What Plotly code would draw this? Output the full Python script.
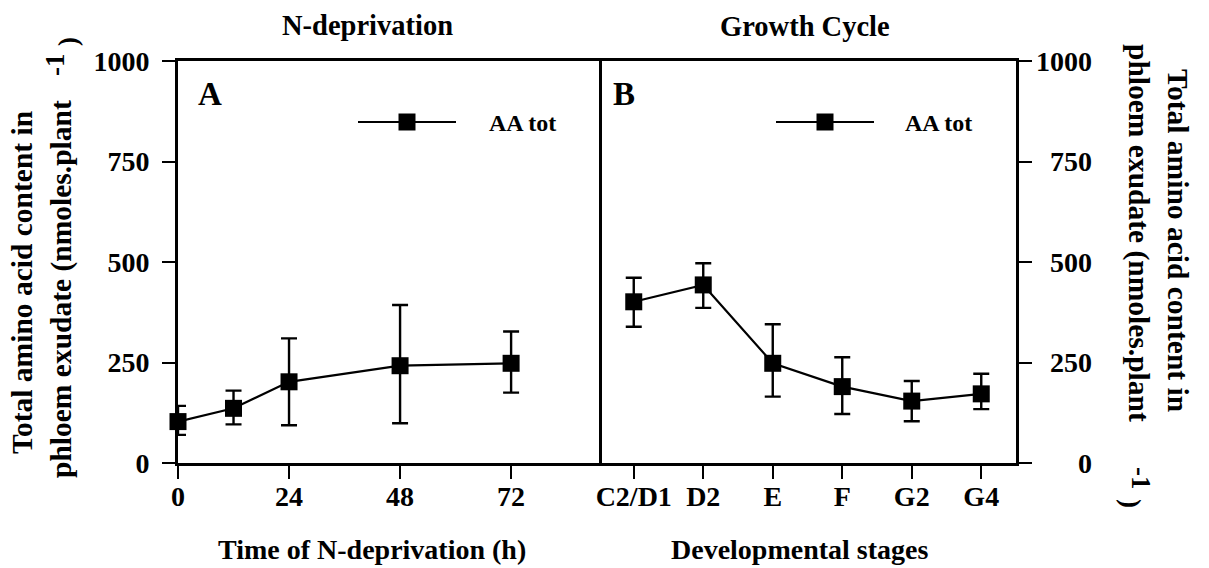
import plotly.graph_objects as go

W, H = 1209, 568

# ---- data ----
hours = [0, 12, 24, 48, 72]
aa_ndep = [103, 136, 202, 242, 248]
aa_ndep_upper = [142, 180, 310, 393, 327]
aa_ndep_lower = [70, 96, 94, 99, 175]

stages = ["C2/D1", "D2", "E", "F", "G2", "G4"]
aa_growth = [401, 443, 248, 190, 154, 172]
aa_growth_upper = [461, 497, 345, 263, 204, 222]
aa_growth_lower = [339, 386, 165, 122, 104, 134]

hour_ticks = [0, 24, 48, 72]
y_ticks = [0, 250, 500, 750, 1000]

FONT = "Liberation Serif, Times New Roman, serif"
BLACK = "#000000"

def err(vals, up, lo):
    return dict(type="data", symmetric=False,
                array=[u - v for u, v in zip(up, vals)],
                arrayminus=[v - l for v, l in zip(vals, lo)],
                color=BLACK, thickness=2.4, width=8)

fig = go.Figure()
fig.add_trace(go.Scatter(
    x=hours, y=aa_ndep, mode="lines+markers", name="AA tot",
    line=dict(color=BLACK, width=2.2),
    marker=dict(symbol="square", size=17, color=BLACK),
    error_y=err(aa_ndep, aa_ndep_upper, aa_ndep_lower),
    cliponaxis=False, xaxis="x", yaxis="y", showlegend=False))
fig.add_trace(go.Scatter(
    x=stages, y=aa_growth, mode="lines+markers", name="AA tot",
    line=dict(color=BLACK, width=2.2),
    marker=dict(symbol="square", size=17, color=BLACK),
    error_y=err(aa_growth, aa_growth_upper, aa_growth_lower),
    cliponaxis=False, xaxis="x2", yaxis="y2", showlegend=False))

def px(x):
    return x / W

def py(y):
    return 1 - y / H

tickfont = dict(family=FONT, size=28, color=BLACK, weight="bold")
axis_common = dict(showline=True, linecolor=BLACK, linewidth=2.6,
                   showgrid=False, zeroline=False, ticks="outside", ticklen=13,
                   tickwidth=2.4, tickcolor=BLACK, tickfont=tickfont,
                   automargin=False)

left_x0, mid_x, right_x1 = 178, 599, 1016
top_y, bot_y = 61, 463

fig.update_layout(
    template="none",
    width=W, height=H, margin=dict(l=0, r=0, t=0, b=0, pad=0),
    paper_bgcolor="white", plot_bgcolor="white", showlegend=False,
    xaxis=dict(domain=[px(left_x0), px(mid_x)], range=[0, 91],
               tickvals=hour_ticks, anchor="y", mirror=True,
               ticklabelstandoff=-6, **axis_common),
    yaxis=dict(domain=[py(bot_y), py(top_y)], range=[0, 1000],
               tickvals=y_ticks, anchor="x", mirror=True, ticklabelstandoff=7,
               **axis_common),
    xaxis2=dict(domain=[px(mid_x), px(right_x1)], type="category",
                range=[-0.5, 5.5], anchor="y2", mirror=True,
                ticklabelstandoff=-6, **axis_common),
    yaxis2=dict(domain=[py(bot_y), py(top_y)], range=[0, 1000],
                tickvals=y_ticks, side="right", anchor="x2", mirror=False,
                showticklabels=False, **axis_common),
)

ann = []
def add_text(text, x, y, size=28, angle=0, xanchor="center", yanchor="middle",
             xref="paper", yref="paper"):
    ann.append(dict(text=text, x=x, y=y, xref=xref, yref=yref, showarrow=False,
                    xanchor=xanchor, yanchor=yanchor, textangle=angle,
                    font=dict(family=FONT, size=size, color=BLACK, weight="bold")))

# right-axis tick labels (right aligned)
for v in y_ticks:
    add_text(str(v), px(1094), v, size=28, xanchor="right", yref="y2")

# panel titles
add_text("N-deprivation", px(367), py(25), size=28.5)
add_text("Growth Cycle", px(805), py(27), size=28.5)
# axis titles
add_text("Time of N-deprivation (h)", px(372), py(549))
add_text("Developmental stages", px(800), py(549))
# panel letters
add_text("A", px(196), py(94), size=33, xanchor="left")
add_text("B", px(611), py(94), size=33, xanchor="left")

# left y title
ytitle1 = "Total amino acid content in"
ytitle2 = "phloem exudate (nmoles.plant"
add_text(ytitle1, px(22), py(283), size=29.5, angle=-90)
add_text(ytitle2, px(61), py(289), size=29.5, angle=-90)
add_text("-1", px(55), py(65), size=27, angle=-90)
add_text(")", px(68), py(42), size=27, angle=-90)
# right y title
add_text(ytitle1, px(1178), py(240), size=29.5, angle=90)
add_text(ytitle2, px(1138), py(233), size=29.5, angle=90)
add_text("-1", px(1141), py(478), size=27, angle=90)
add_text(")", px(1131), py(503), size=27, angle=90)

# legend keys
shapes = []
for (lx0, lx1, tx) in [(358, 456, 487), (776, 874, 903)]:
    cy = 122
    cx = (lx0 + lx1) / 2
    shapes.append(dict(type="line", xref="paper", yref="paper",
                       x0=px(lx0), x1=px(lx1), y0=py(cy), y1=py(cy),
                       line=dict(color=BLACK, width=2.2)))
    shapes.append(dict(type="rect", xref="paper", yref="paper",
                       x0=px(cx - 8.5), x1=px(cx + 8.5), y0=py(cy + 8.5), y1=py(cy - 8.5),
                       line=dict(width=0), fillcolor=BLACK))
    add_text("AA tot", px(tx), py(123), size=24, xanchor="left")

fig.update_layout(annotations=ann, shapes=shapes)
fig.write_html("out.html")
